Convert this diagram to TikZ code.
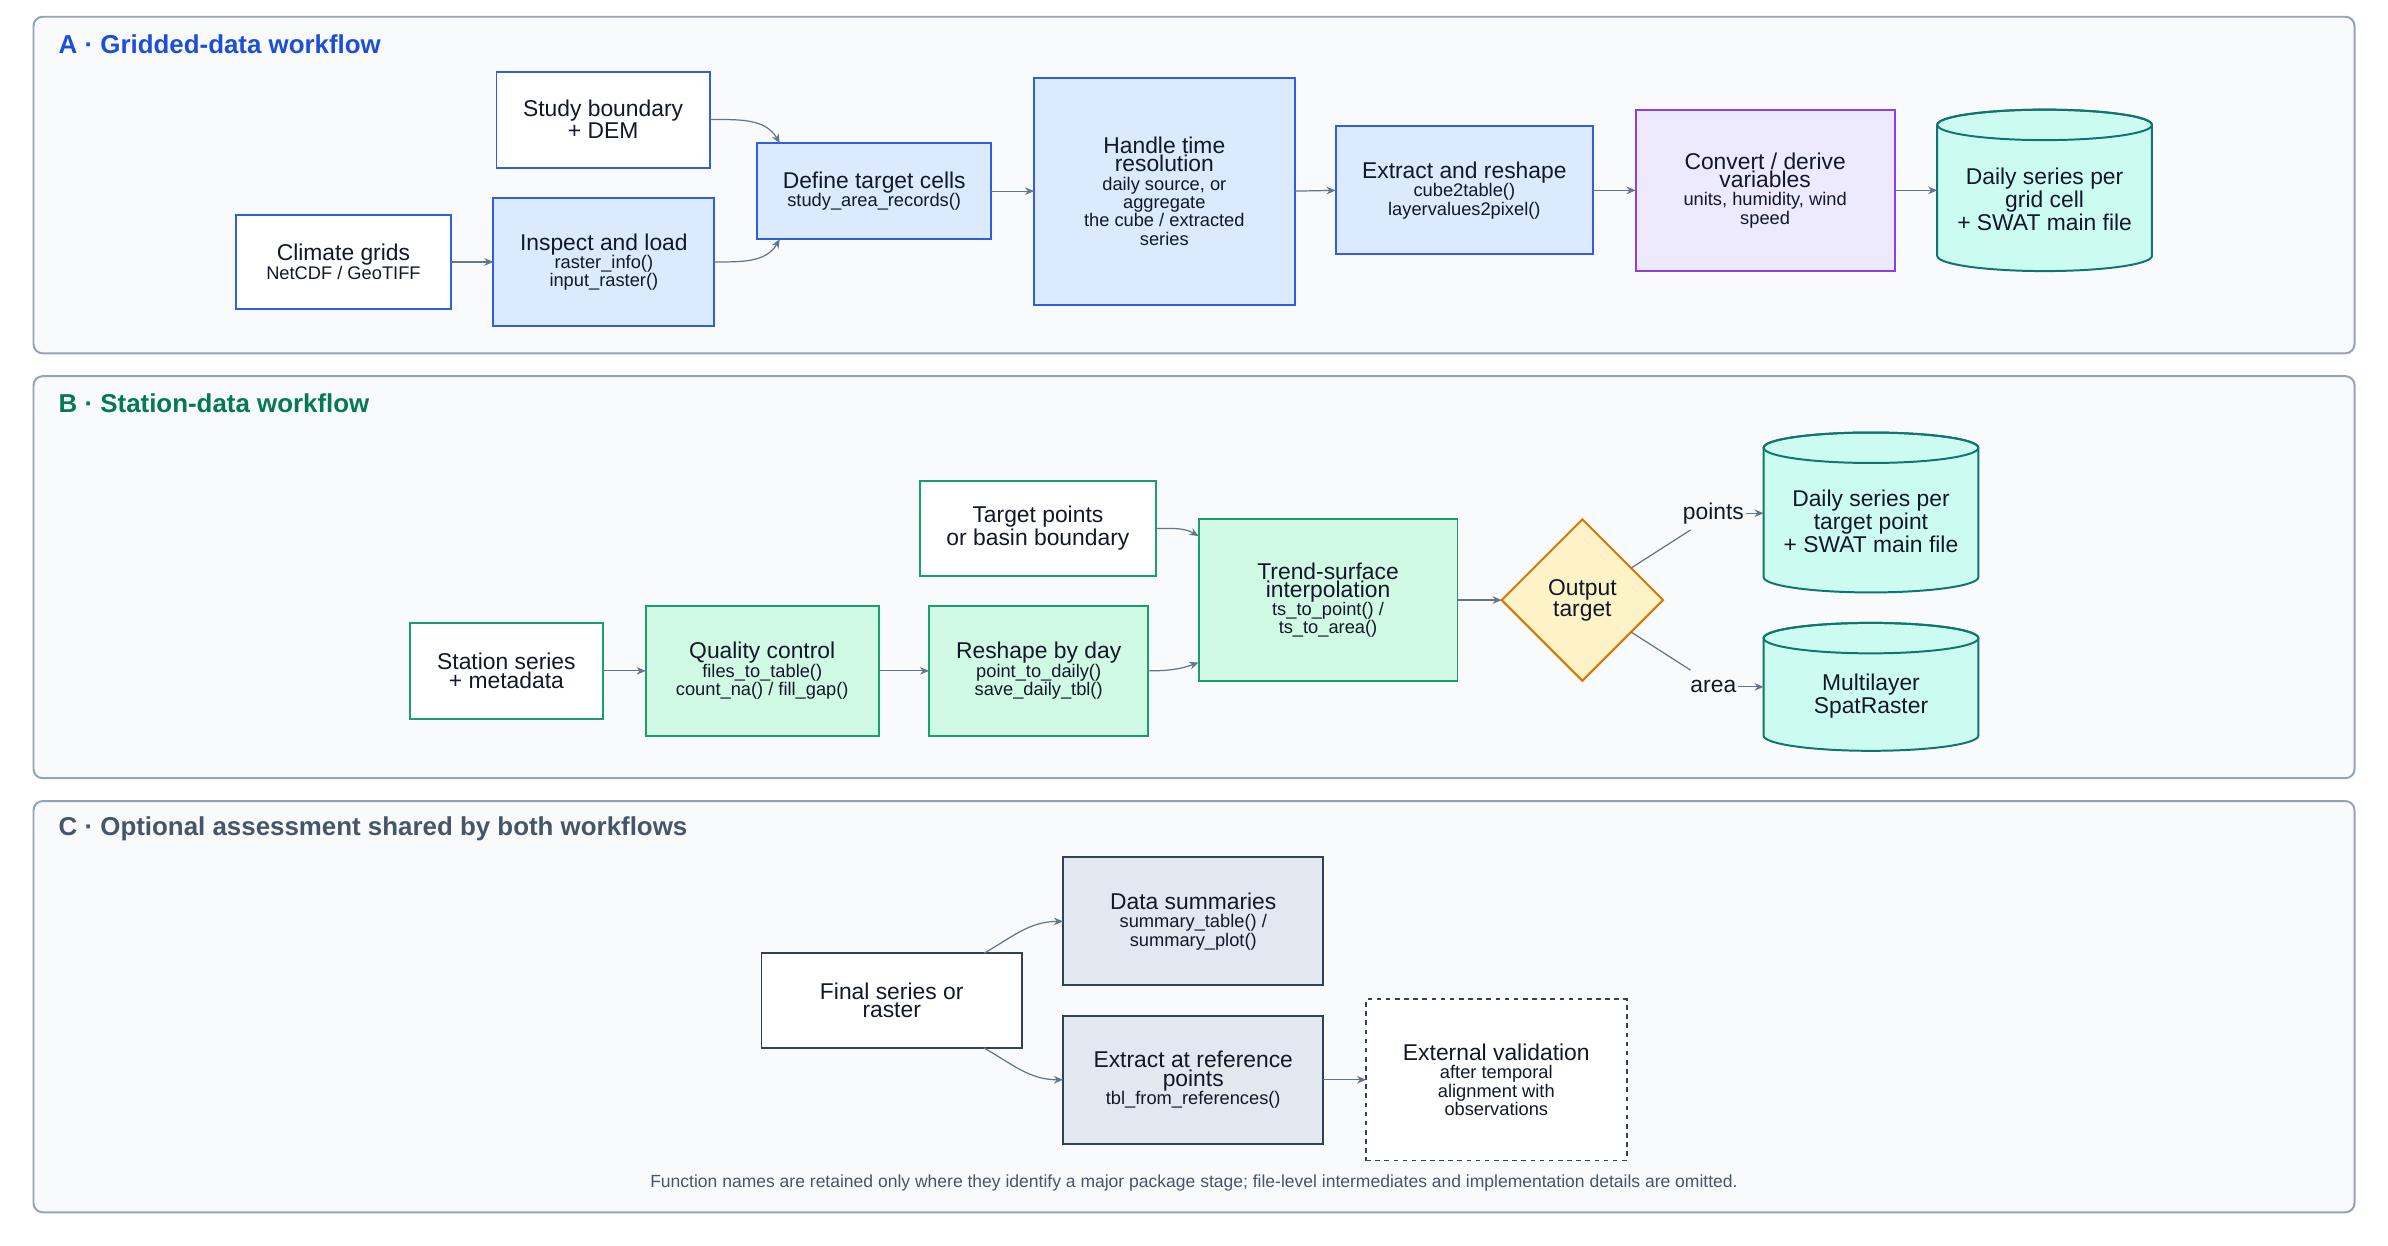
\documentclass[tikz,border=0pt]{standalone}
\usepackage{fontspec}
\setmainfont{Liberation Sans}
\usetikzlibrary{shapes.geometric,arrows.meta,calc}
\definecolor{panelbg}{HTML}{F8FAFC}
\definecolor{panelln}{HTML}{94A3B8}
\definecolor{bluel}{HTML}{2F5FE0}
\definecolor{bluef}{HTML}{DBEAFE}
\definecolor{purl}{HTML}{8B3DF0}
\definecolor{purf}{HTML}{EDE9FE}
\definecolor{teall}{HTML}{0F766E}
\definecolor{tealf}{HTML}{CCFBF1}
\definecolor{greenl}{HTML}{16A06E}
\definecolor{greenf}{HTML}{D1FAE5}
\definecolor{orl}{HTML}{D97706}
\definecolor{orf}{HTML}{FEF3C7}
\definecolor{slatel}{HTML}{334155}
\definecolor{slatef}{HTML}{E2E8F0}
\definecolor{arr}{HTML}{64748B}
\definecolor{txt}{HTML}{111827}
\definecolor{hA}{HTML}{1D4ED8}
\definecolor{hB}{HTML}{047857}
\definecolor{hC}{HTML}{475569}
\tikzset{
 box/.style={draw, line width=1.3pt, inner sep=0pt, outer sep=0pt, align=center, text=txt},
 bluew/.style={box, draw=bluel, fill=white},
 blueb/.style={box, draw=bluel, fill=bluef},
 purb/.style={box, draw=purl, fill=purf},
 greenw/.style={box, draw=greenl, fill=white},
 greenb/.style={box, draw=greenl, fill=greenf},
 slatew/.style={box, draw=slatel, fill=white},
 slateb/.style={box, draw=slatel, fill=slatef},
 dashbox/.style={box, draw=slatel, fill=white, dashed},
 conn/.style={draw=arr, line width=0.8pt, -{Stealth[length=6pt,width=5pt]}},
 plainconn/.style={draw=arr, line width=0.8pt},
 panel/.style={draw=panelln, fill=panelbg, line width=1.3pt, rounded corners=6pt},
}
\newcommand{\bigt}{\fontsize{15}{22}\selectfont}
\newcommand{\smt}{\fontsize{12}{22}\selectfont}
\newcommand{\bx}[7]{\node[#6, minimum width={(#4-#2)*1pt}, minimum height={(#5-#3)*1pt}] (#1) at ({(#2+#4)/2},{(#3+#5)/2}) {#7};}
\newcommand{\cyl}[6]{%
 \path[fill=tealf, draw=teall, line width=1.3pt] (#2,#3+10) -- (#2,#5-10) arc[start angle=180,end angle=0,x radius={(#4-#2)/2},y radius=10] -- (#4,#3+10) arc[start angle=0,end angle=-180,x radius={(#4-#2)/2},y radius=10] -- cycle;
 \draw[teall, line width=1.3pt] ({(#2+#4)/2},#3+10) ellipse[x radius={(#4-#2)/2},y radius=10];
 \node[inner sep=0pt, outer sep=0pt, minimum width={(#4-#2)*1pt}, minimum height={(#5-#3)*1pt}] (#1) at ({(#2+#4)/2},{(#3+#5)/2}) {};
 \node[align=center, text=txt] at ({(#2+#4)/2},{(#3+#5)/2+6}) {#6};}
\begin{document}
\begin{tikzpicture}[x=1pt,y=-1pt]
\useasboundingbox (0,0) rectangle (1568,818);
\draw[panel] (22,11) rectangle (1546,232);
\draw[panel] (22,247) rectangle (1546,511);
\draw[panel] (22,526) rectangle (1546,796);
\node[anchor=west, font=\fontsize{17}{20}\selectfont\bfseries, text=hA] at (35,29) {A · Gridded-data workflow};
\node[anchor=west, font=\fontsize{17}{20}\selectfont\bfseries, text=hB] at (35,265) {B · Station-data workflow};
\node[anchor=west, font=\fontsize{17}{20}\selectfont\bfseries, text=hC] at (35,544) {C · Optional assessment shared by both workflows};
% A
\bx{climate}{155}{141}{296}{203}{bluew}{\bigt Climate grids\\\smt NetCDF / GeoTIFF}
\bx{study}{326}{47}{466}{110}{bluew}{\bigt Study boundary\\\bigt + DEM}
\bx{inspect}{324}{130}{469}{214}{blueb}{\bigt Inspect and load\\\smt raster\_info()\\\smt input\_raster()}
\bx{define}{497}{94}{651}{157}{blueb}{\bigt Define target cells\\\smt study\_area\_records()}
\bx{handle}{679}{51}{850}{200}{blueb}{\bigt Handle time\\\bigt resolution\\\smt daily source, or\\\smt aggregate\\\smt the cube / extracted\\\smt series}
\bx{extract}{877}{83}{1046}{167}{blueb}{\bigt Extract and reshape\\\smt cube2table()\\\smt layervalues2pixel()}
\bx{convert}{1074}{72}{1244}{178}{purb}{\bigt Convert / derive\\\bigt variables\\\smt units, humidity, wind\\\smt speed}
\cyl{dailyA}{1272}{72}{1413}{178}{\bigt Daily series per\\\bigt grid cell\\\bigt + SWAT main file}
\draw[conn] (climate.east) -- (inspect.west);
\draw[conn] (study.east) to[out=0,in=120] ($(define.north west)+(15,0)$);
\draw[conn] (inspect.east) to[out=0,in=-120] ($(define.south west)+(15,0)$);
\draw[conn] (define.east) -- (handle.west);
\draw[conn] (handle.east) -- (extract.west);
\draw[conn] (extract.east) -- (convert.west);
\draw[conn] (convert.east) -- (dailyA.west);
% B
\bx{station}{269}{409}{396}{472}{greenw}{\bigt Station series\\\bigt + metadata}
\bx{qc}{424}{398}{577}{483}{greenb}{\bigt Quality control\\\smt files\_to\_table()\\\smt count\_na() / fill\_gap()}
\bx{reshape}{610}{398}{754}{483}{greenb}{\bigt Reshape by day\\\smt point\_to\_daily()\\\smt save\_daily\_tbl()}
\bx{target}{604}{316}{759}{378}{greenw}{\bigt Target points\\\bigt or basin boundary}
\bx{trend}{787}{341}{957}{447}{greenb}{\bigt Trend-surface\\\bigt interpolation\\\smt ts\_to\_point() /\\\smt ts\_to\_area()}
\node[diamond, aspect=1, draw=orl, fill=orf, line width=1.3pt, minimum size=106pt, inner sep=0pt, outer sep=0pt, align=center, text=txt] (out) at (1039,394) {\bigt Output\\\bigt target};
\cyl{cpts}{1158}{284}{1299}{389}{\bigt Daily series per\\\bigt target point\\\bigt + SWAT main file}
\cyl{carea}{1158}{409}{1299}{493}{\bigt Multilayer\\\bigt SpatRaster}
\node[text=txt, font=\bigt, inner sep=1pt] (lpts) at (1125,337) {points};
\node[text=txt, font=\bigt, inner sep=1pt] (larea) at (1125,451) {area};
\draw[conn] (station.east) -- (qc.west);
\draw[conn] (qc.east) -- (reshape.west);
\draw[conn] (reshape.east) to[out=0,in=-160] ($(trend.south west)+(0,-12)$);
\draw[conn] (target.east) to[out=0,in=150] ($(trend.north west)+(0,11)$);
\draw[conn] (trend.east) -- (out.west);
\draw[plainconn] (1071,373) -- (1110,348);
\draw[plainconn] (1071,415) -- (1110,440);
\draw[conn] (lpts.east) -- (cpts.west |- lpts.east);
\draw[conn] (larea.east) -- (carea.west |- larea.east);
% C
\bx{final}{500}{626}{671}{688}{slatew}{\bigt Final series or\\\bigt raster}
\bx{summ}{698}{563}{869}{647}{slateb}{\bigt Data summaries\\\smt summary\_table() /\\\smt summary\_plot()}
\bx{extref}{698}{667}{869}{751}{slateb}{\bigt Extract at reference\\\bigt points\\\smt tbl\_from\_references()}
\bx{valid}{897}{656}{1068}{762}{dashbox}{\bigt External validation\\\smt after temporal\\\smt alignment with\\\smt observations}
\draw[conn] ($(final.north east)+(-25,0)$) to[out=30,in=180] (summ.west);
\draw[conn] ($(final.south east)+(-25,0)$) to[out=-30,in=180] (extref.west);
\draw[conn] (extref.east) -- (valid.west);
\node[text=hC, font=\fontsize{11.5}{14}\selectfont] at (784,777) {Function names are retained only where they identify a major package stage; file-level intermediates and implementation details are omitted.};
\end{tikzpicture}
\end{document}
